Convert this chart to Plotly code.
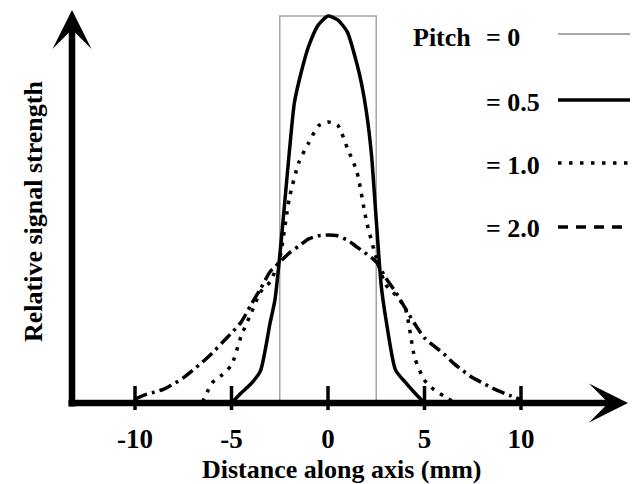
import plotly.graph_objects as go

# ---------------- data ----------------
tick_vals = [-10, -5, 0, 5, 10]
tick_text = ["-10", "-5", "0", "5", "10"]

legend_labels = ["= 0", "= 0.5", "= 1.0", "= 2.0"]

# Pitch = 0 (rectangular profile)
x_p0 = [-2.5, -2.5, 2.5, 2.5]
y_p0 = [0.0, 1.0, 1.0, 0.0]

# Pitch = 0.5
x_p05 = [-5.0, -4.5, -4.0, -3.5, -3.0, -2.75, -2.5, -2.25, -2.0, -1.75, -1.5, -1.0, -0.5, 0.0,
         0.5, 1.0, 1.5, 1.75, 2.0, 2.25, 2.5, 2.75, 3.0, 3.5, 4.0, 4.5, 5.0]
y_p05 = [0.0, 0.026, 0.049, 0.083, 0.207, 0.266, 0.380, 0.514, 0.651, 0.773, 0.832, 0.922, 0.977, 1.0,
         0.990, 0.959, 0.876, 0.822, 0.749, 0.643, 0.473, 0.307, 0.217, 0.085, 0.054, 0.026, 0.0]

# Pitch = 1.0
x_p10 = [-6.5, -6.0, -5.5, -5.0, -4.5, -4.0, -3.5, -3.0, -2.5, -2.0, -1.5, -1.0, -0.5, 0.0,
         0.5, 1.0, 1.5, 2.0, 2.5, 3.0, 3.5, 4.0, 4.5, 5.0, 5.5, 6.0, 6.5]
y_p10 = [0.003, 0.052, 0.072, 0.098, 0.173, 0.230, 0.287, 0.313, 0.375, 0.530, 0.623, 0.672, 0.716, 0.726,
         0.718, 0.659, 0.597, 0.468, 0.375, 0.305, 0.279, 0.245, 0.116, 0.059, 0.034, 0.018, 0.003]

# Pitch = 2.0
x_p20 = [-10.0, -9.5, -9.0, -8.5, -8.0, -7.5, -7.0, -6.5, -6.0, -5.5, -5.0, -4.5, -4.0, -3.5, -3.0,
         -2.5, -2.0, -1.5, -1.0, -0.5, 0.0, 0.5, 1.0, 1.5, 2.0, 2.5, 3.0, 3.5, 4.0, 4.5, 5.0,
         5.5, 6.0, 6.5, 7.0, 7.5, 8.0, 8.5, 9.0, 9.5, 10.0]
y_p20 = [0.010, 0.021, 0.028, 0.036, 0.049, 0.065, 0.085, 0.106, 0.129, 0.155, 0.181, 0.209, 0.253,
         0.295, 0.339, 0.364, 0.388, 0.406, 0.424, 0.432, 0.434, 0.432, 0.421, 0.403, 0.385, 0.365,
         0.323, 0.287, 0.245, 0.204, 0.168, 0.147, 0.127, 0.103, 0.083, 0.065, 0.052, 0.039, 0.028,
         0.018, 0.008]

# ---------------- layout constants (in page pixels) ----------------
W, H = 638, 484
OFF = 8                      # page body margin in front of the figure
P_LEFT, P_RIGHT, P_TOP, P_BOTTOM = 72, 628, 8, 403   # plot area on the page
ML = P_LEFT - OFF
MR = W - (P_RIGHT - OFF)
MT = P_TOP - OFF
MB = H - (P_BOTTOM - OFF)
PX_PER_MM = 19.3
X0_PX = 328.0            # page pixel of x = 0
PX_PER_UNIT = 387.0      # pixels per unit of signal
x_range = [(P_LEFT - X0_PX) / PX_PER_MM, (P_RIGHT - X0_PX) / PX_PER_MM]
y_range = [0.0, (P_BOTTOM - P_TOP) / PX_PER_UNIT]

FONT = "Liberation Serif, Times New Roman, serif"


def dx(px):
    return (px - X0_PX) / PX_PER_MM


def dy(py):
    return (P_BOTTOM - py) / PX_PER_UNIT


def paper_x(px):
    return (px - P_LEFT) / (P_RIGHT - P_LEFT)


def paper_y(py):
    return (P_BOTTOM - py) / (P_BOTTOM - P_TOP)


fig = go.Figure()

fig.add_trace(go.Scatter(x=x_p0, y=y_p0, mode="lines",
                         line=dict(color="#a3a3a3", width=1.5), name="Pitch = 0"))
fig.add_trace(go.Scatter(x=x_p05, y=y_p05, mode="lines",
                         line=dict(color="black", width=3.5, shape="spline", smoothing=0.6),
                         name="Pitch = 0.5"))
fig.add_trace(go.Scatter(x=x_p10, y=y_p10, mode="lines",
                         line=dict(color="black", width=3.5, dash="3.5px,7px", shape="spline", smoothing=0.6),
                         name="Pitch = 1.0"))
fig.add_trace(go.Scatter(x=x_p20, y=y_p20, mode="lines",
                         line=dict(color="black", width=3.5, dash="13px,5px,3px,5px", shape="spline",
                                   smoothing=0.6),
                         name="Pitch = 2.0"))

shapes = []
# tick marks crossing the axis
for tv in tick_vals:
    shapes.append(dict(type="line", xref="x", yref="paper", x0=tv, x1=tv,
                       y0=paper_y(410), y1=paper_y(386),
                       line=dict(color="black", width=3.5)))

# legend samples
legend_py = [34, 100, 163, 227]
legend_styles = [dict(color="#a8a8a8", width=2),
                 dict(color="black", width=3.5),
                 dict(color="black", width=3.5, dash="3.5px,7.5px"),
                 dict(color="black", width=3.5, dash="10px,8px")]
for py, st in zip(legend_py, legend_styles):
    shapes.append(dict(type="line", xref="paper", yref="paper",
                       x0=paper_x(558), x1=paper_x(660), y0=paper_y(py), y1=paper_y(py), line=st))

annotations = []
# axis arrows
annotations.append(dict(x=dx(628), y=0, ax=dx(67), ay=0, xref="x", yref="y", axref="x", ayref="y",
                        text="", showarrow=True, arrowhead=3, arrowsize=1, arrowwidth=6.5,
                        arrowcolor="black"))
annotations.append(dict(x=dx(72), y=dy(10), ax=dx(72), ay=dy(408), xref="x", yref="y", axref="x",
                        ayref="y", text="", showarrow=True, arrowhead=3, arrowsize=1, arrowwidth=6.5,
                        arrowcolor="black"))
# axis titles
annotations.append(dict(x=paper_x(341), y=paper_y(469), xref="paper", yref="paper", showarrow=False,
                        text="<b>Distance along axis (mm)</b>",
                        font=dict(family=FONT, size=26, color="black"),
                        xanchor="center", yanchor="middle"))
annotations.append(dict(x=paper_x(33), y=paper_y(212), xref="paper", yref="paper", showarrow=False,
                        textangle=-90,
                        text="<b>Relative signal strength</b>",
                        font=dict(family=FONT, size=26, color="black"),
                        xanchor="center", yanchor="middle"))
# legend text
annotations.append(dict(x=paper_x(473), y=paper_y(38), xref="paper", yref="paper", showarrow=False,
                        text="<b>Pitch</b>", font=dict(family=FONT, size=26, color="black"),
                        xanchor="right", yanchor="middle"))
legend_text_py = [38, 102, 165, 228]
for lab, py in zip(legend_labels, legend_text_py):
    annotations.append(dict(x=paper_x(484), y=paper_y(py), xref="paper", yref="paper", showarrow=False,
                            text="<b>" + lab + "</b>", font=dict(family=FONT, size=26, color="black"),
                            xanchor="left", yanchor="middle"))

fig.update_layout(
    width=W, height=H,
    margin=dict(l=ML, r=MR, t=MT, b=MB, pad=0),
    paper_bgcolor="white", plot_bgcolor="white",
    showlegend=False,
    shapes=shapes,
    annotations=annotations,
    xaxis=dict(range=x_range, showgrid=False, zeroline=False, showline=False, ticks="",
               tickmode="array", tickvals=tick_vals, ticktext=tick_text,
               tickfont=dict(family=FONT, size=27, color="black", weight="bold"),
               ticklabelstandoff=17, automargin=False),
    yaxis=dict(range=y_range, showgrid=False, zeroline=False, showline=False, ticks="",
               showticklabels=False, automargin=False),
)

fig.write_html("out.html")
